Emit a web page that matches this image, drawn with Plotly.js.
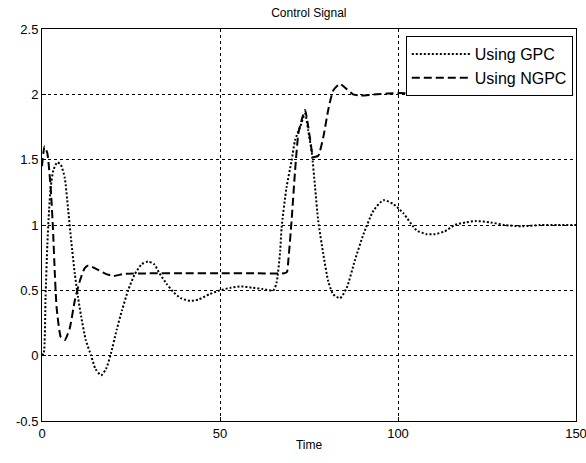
<!DOCTYPE html>
<html>
<head>
<meta charset="utf-8">
<script src="https://cdn.plot.ly/plotly-3.0.1.min.js"></script>
<style>html,body{margin:0;padding:0;background:#fff;}#chart{width:586px;height:463px;}</style>
</head>
<body>
<div id="chart"></div>
<script>
// GPC control signal (dotted)
const gpcTime = [0, 0.5, 1, 1.5, 2, 2.5, 3.2, 4.3, 5.3, 6.4, 7.3, 8.2, 9.2, 10.1, 11, 12.3, 13.8, 15, 16.6, 18, 19.2, 21, 22.5, 24.2, 26, 28, 29.8, 31.5, 33, 35, 36.8, 39, 41.6, 44, 47, 50, 53, 56, 59, 62, 65, 65.9, 66.9, 67.3, 68.7, 70.1, 71.1, 72.5, 73.9, 74.8, 75.8, 76.7, 77.6, 79, 80.4, 81.8, 83.7, 85.6, 87.9, 90.3, 93.1, 95.9, 98.7, 101.5, 105.2, 108, 110.4, 113, 116, 119, 122, 126, 130, 135, 140, 145, 150];
const gpcValue = [0, 0.02, 0.45, 0.85, 1.12, 1.3, 1.42, 1.48, 1.46, 1.36, 1.13, 0.88, 0.63, 0.45, 0.3, 0.12, 0.0, -0.1, -0.15, -0.1, 0.0, 0.2, 0.35, 0.5, 0.62, 0.7, 0.72, 0.7, 0.63, 0.55, 0.49, 0.44, 0.42, 0.43, 0.47, 0.5, 0.52, 0.53, 0.52, 0.51, 0.5, 0.56, 0.8, 0.98, 1.29, 1.49, 1.65, 1.75, 1.85, 1.72, 1.55, 1.29, 1.03, 0.78, 0.57, 0.47, 0.44, 0.52, 0.73, 0.93, 1.11, 1.19, 1.16, 1.09, 0.96, 0.93, 0.93, 0.95, 1.0, 1.02, 1.03, 1.02, 1.0, 0.99, 1.0, 1.0, 1.0];

// NGPC control signal (dashed)
const ngpcTime = [0, 0.7, 1.5, 2.5, 3.1, 3.6, 4.1, 5.3, 6.4, 7.8, 9.2, 10.6, 12, 13, 14.8, 17.6, 20, 23, 30, 40, 50, 60, 68, 68.8, 69.2, 70.1, 71.1, 72, 72.9, 73.9, 74.8, 75.5, 76.2, 77.6, 79, 80.4, 81.8, 83.7, 85.6, 87.4, 89.3, 94, 100, 110, 120, 130, 140, 150];
const ngpcValue = [1.45, 1.6, 1.55, 1.26, 0.96, 0.63, 0.37, 0.14, 0.12, 0.21, 0.42, 0.57, 0.67, 0.69, 0.67, 0.63, 0.61, 0.625, 0.63, 0.63, 0.63, 0.63, 0.63, 0.64, 0.73, 1.03, 1.42, 1.7, 1.8, 1.88, 1.75, 1.62, 1.52, 1.53, 1.67, 1.88, 2.03, 2.08, 2.04, 2.0, 1.99, 2.0, 2.01, 2.0, 2.0, 2.01, 2.0, 2.0];

const seriesNames = ['Using GPC', 'Using NGPC'];
const xTicks = [0, 50, 100, 150];
const xTickText = ['0', '50', '100', '150'];
const yTicks = [-0.5, 0, 0.5, 1, 1.5, 2, 2.5];
const yTickText = ['-0.5', '0', '0.5', '1', '1.5', '2', '2.5'];

const fam = 'Liberation Sans, Arial, sans-serif';
const font = {family: fam, size: 12, color: '#000'};
const tickFont = {family: fam, size: 13, color: '#000'};
const legendFont = {family: fam, size: 16, color: '#000'};

const traces = [
  {x: gpcTime, y: gpcValue, name: seriesNames[0], mode: 'lines',
   line: {color: '#000', width: 2, dash: '2px,2px', shape: 'spline', smoothing: 0.6}},
  {x: ngpcTime, y: ngpcValue, name: seriesNames[1], mode: 'lines',
   line: {color: '#000', width: 2, dash: '8px,4px', shape: 'spline', smoothing: 0.5}}
];

const axisCommon = {
  showline: true, mirror: true, linecolor: '#000', linewidth: 1,
  showgrid: true, gridcolor: '#000', gridwidth: 1, griddash: '3px,3px',
  zeroline: false, ticks: 'inside', ticklen: 4, tickcolor: '#000',
  tickfont: tickFont, ticklabeloverflow: 'allow'
};

const layout = {
  width: 586, height: 463,
  margin: {l: 42, r: 10, t: 29, b: 42, pad: 0},
  paper_bgcolor: '#fff', plot_bgcolor: '#fff',
  font: font,
  title: {text: 'Control Signal', font: font, x: 0.527, xanchor: 'center', y: 0.973, yanchor: 'middle'},
  xaxis: Object.assign({}, axisCommon, {
    range: [0, 150], tickvals: xTicks, ticktext: xTickText,
    title: {text: 'Time', font: font, standoff: 1}
  }),
  yaxis: Object.assign({}, axisCommon, {
    range: [-0.5, 2.5], tickvals: yTicks, ticktext: yTickText
  }),
  showlegend: true,
  legend: {
    x: 0.994, y: 0.982, xanchor: 'right', yanchor: 'top',
    bgcolor: '#fff', bordercolor: '#000', borderwidth: 1,
    font: legendFont, itemwidth: 58
  }
};

Plotly.newPlot('chart', traces, layout, {displayModeBar: false, staticPlot: true});
</script>
</body>
</html>
